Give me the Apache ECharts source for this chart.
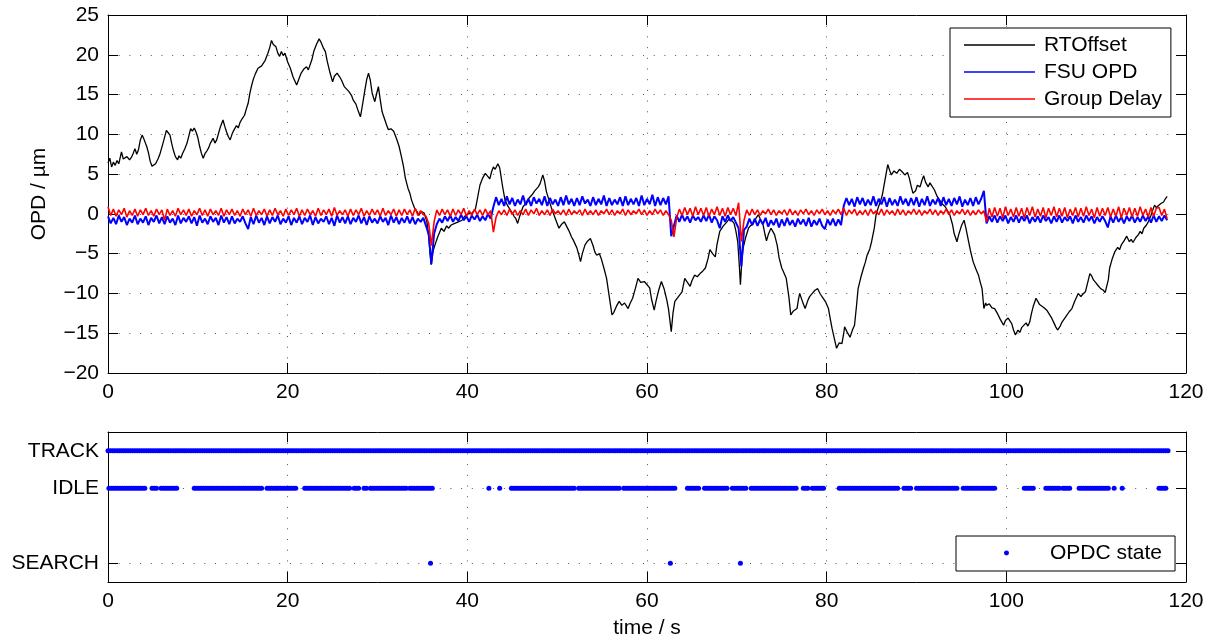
<!DOCTYPE html>
<html>
<head>
<meta charset="utf-8">
<title>OPD tracking</title>
<script src="https://cdn.jsdelivr.net/npm/echarts@6/dist/echarts.min.js"></script>
<style>
  html, body { margin: 0; padding: 0; background: #fff; }
  #chart { width: 1212px; height: 640px; }
</style>
</head>
<body>
<div id="chart"></div>
<script>
// ---- data -------------------------------------------------------------

// RTOffset trace, [time s, OPD µm]
const rtOffset = [
  [0,6.4],[0.2,7.0],[0.4,5.9],[0.6,6.5],[0.8,6.1],[1.0,6.7],[1.2,6.3],[1.5,7.8],[1.7,6.9],[1.9,6.7],
  [2.1,7.2],[2.4,6.8],[2.6,7.1],[2.8,7.6],[3.0,8.2],[3.2,7.5],[3.4,8.1],[3.6,9.3],[3.8,9.9],[4.0,9.4],
  [4.3,8.5],[4.5,7.7],[4.7,6.6],[4.9,6.0],[5.1,5.8],[5.3,6.3],[5.6,7.0],[5.8,7.6],[6.0,8.4],[6.2,9.2],
  [6.5,10.5],[6.7,10.2],[6.9,9.9],[7.1,8.8],[7.3,7.9],[7.5,7.2],[7.75,6.8],[7.9,7.3],[8.1,7.0],[8.3,7.6],
  [8.55,8.2],[8.8,8.9],[9.0,9.8],[9.2,10.7],[9.4,10.4],[9.6,10.8],[9.8,10.3],[10.0,9.6],[10.2,8.5],[10.4,7.6],
  [10.6,7.0],[10.8,7.6],[11.0,7.9],[11.2,8.3],[11.4,8.9],[11.7,9.5],[11.9,8.9],[12.1,9.3],[12.3,10.1],[12.5,10.9],
  [12.8,11.8],[13.0,11.0],[13.2,10.3],[13.4,9.7],[13.6,9.3],[13.8,10.0],[14.0,10.5],[14.3,11.1],[14.5,10.8],[14.7,11.5],
  [14.9,11.9],[15.2,12.4],[15.4,13.2],[15.6,13.9],[15.8,15.2],[16.0,16.2],[16.2,17.0],[16.4,17.6],[16.7,18.3],[16.9,18.1],
  [17.1,18.6],[17.3,18.5],[17.5,19.3],[17.8,20.2],[18.0,20.9],[18.2,21.8],[18.4,21.3],[18.7,21.0],[18.9,20.2],[19.1,19.8],
  [19.3,20.4],[19.5,19.9],[19.7,20.2],[20.0,19.1],[20.3,18.3],[20.6,17.2],[21.0,16.2],[21.2,16.8],[21.5,17.7],[21.8,18.2],
  [22.1,18.5],[22.3,18.1],[22.5,18.3],[22.7,19.4],[22.9,20.4],[23.2,21.3],[23.5,22.0],[23.7,21.6],[24.0,20.8],[24.2,20.4],
  [24.4,19.2],[24.7,17.8],[25.0,16.6],[25.2,17.3],[25.5,17.7],[25.8,17.2],[26.0,16.8],[26.3,16.0],[26.5,15.8],[26.8,15.4],
  [27.1,14.9],[27.3,14.3],[27.6,13.8],[27.8,13.1],[28.1,12.2],[28.3,13.5],[28.6,15.6],[28.8,16.9],[29.0,17.7],[29.2,16.8],
  [29.4,15.2],[29.7,14.1],[29.9,15.1],[30.1,16.0],[30.3,14.4],[30.5,12.9],[30.7,12.2],[31.0,11.2],[31.2,10.6],[31.5,10.7],
  [31.8,10.4],[32.1,9.5],[32.4,8.5],[32.7,7.0],[32.9,5.9],[33.1,4.5],[33.4,3.2],[33.6,2.6],[33.8,1.7],[34.1,0.8],
  [34.4,0.3],[34.6,-0.2],[34.9,0.3],[35.2,0.1],[35.5,-1.0],[35.7,-2.8],[35.96,-6.4],[36.2,-4.6],[36.4,-3.9],[36.7,-2.9],
  [37.1,-1.8],[37.4,-2.2],[37.7,-1.5],[37.9,-1.8],[38.2,-1.4],[38.6,-1.2],[39.0,-1.0],[39.4,-0.8],[39.7,-0.3],[40.1,0.0],
  [40.5,0.1],[40.9,0.6],[41.1,1.8],[41.4,3.6],[41.7,4.5],[42.0,5.1],[42.2,4.9],[42.5,4.4],[42.7,5.3],[42.9,5.9],
  [43.1,5.6],[43.4,6.3],[43.6,5.8],[43.7,5.1],[43.9,3.6],[44.2,1.7],[44.5,1.0],[44.9,0.3],[45.2,-0.3],[45.4,-0.6],
  [45.6,-1.2],[45.8,-0.4],[46.2,0.9],[46.5,1.3],[46.8,1.9],[47.2,2.4],[47.5,2.9],[47.9,3.4],[48.1,3.8],[48.4,4.9],
  [48.6,4.1],[48.8,2.8],[49.1,1.7],[49.4,0.6],[49.8,-0.6],[50.0,-1.2],[50.2,-1.8],[50.5,-1.3],[50.8,-1.0],[51.0,-1.2],
  [51.3,-2.1],[51.6,-2.9],[51.8,-3.3],[52.0,-3.8],[52.2,-4.3],[52.4,-5.1],[52.6,-6.0],[52.8,-5.0],[53.1,-3.9],[53.4,-3.4],
  [53.7,-3.1],[54.0,-4.0],[54.2,-4.8],[54.4,-5.2],[54.7,-5.0],[54.9,-5.6],[55.2,-6.8],[55.5,-8.1],[55.8,-10.4],[56.1,-12.7],
  [56.3,-12.4],[56.6,-11.6],[56.9,-11.0],[57.2,-11.5],[57.5,-11.2],[57.9,-11.9],[58.1,-11.3],[58.4,-10.6],[58.7,-9.4],[59.0,-8.1],
  [59.3,-8.6],[59.7,-8.5],[59.9,-8.3],[60.3,-9.3],[60.5,-10.7],[60.8,-12.1],[61.0,-11.0],[61.3,-9.6],[61.6,-8.5],[61.9,-9.4],
  [62.2,-10.8],[62.4,-12.0],[62.7,-14.8],[62.9,-12.4],[63.1,-11.0],[63.5,-10.4],[63.9,-9.8],[64.2,-8.1],[64.5,-8.6],[64.8,-9.1],
  [65.0,-8.4],[65.3,-7.7],[65.6,-7.9],[65.9,-7.5],[66.2,-7.2],[66.5,-6.8],[66.8,-5.6],[67.0,-4.5],[67.3,-5.0],[67.6,-5.4],
  [67.8,-3.8],[68.1,-2.2],[68.5,-1.5],[68.9,-1.0],[69.1,-0.7],[69.3,-0.5],[69.5,-0.9],[69.7,-1.2],[69.9,-2.2],[70.1,-3.5],
  [70.25,-6.0],[70.4,-8.9],[70.55,-6.0],[70.7,-4.3],[71.0,-2.9],[71.3,-1.8],[71.5,-1.5],[71.8,-1.3],[72.1,-0.6],[72.4,-0.1],
  [72.6,-0.6],[72.9,-1.3],[73.1,-2.4],[73.3,-3.4],[73.5,-2.6],[73.8,-1.8],[74.0,-2.2],[74.2,-2.6],[74.5,-4.0],[74.7,-5.5],
  [75.0,-6.8],[75.2,-7.3],[75.5,-8.1],[75.8,-10.5],[76.0,-12.7],[76.3,-12.2],[76.7,-11.9],[76.85,-10.8],[77.0,-10.0],[77.3,-11.0],
  [77.6,-11.9],[77.9,-10.9],[78.1,-10.4],[78.4,-10.0],[78.7,-9.6],[79.0,-9.4],[79.3,-10.1],[79.6,-10.6],[79.9,-11.1],[80.2,-11.9],
  [80.4,-13.2],[80.6,-14.4],[80.9,-15.9],[81.1,-16.9],[81.4,-16.2],[81.7,-16.3],[81.9,-15.0],[82.0,-14.2],[82.3,-14.9],[82.6,-15.5],
  [82.9,-14.5],[83.1,-14.0],[83.3,-11.8],[83.5,-9.4],[83.8,-8.0],[84.1,-6.8],[84.3,-6.1],[84.5,-5.2],[84.8,-4.4],[85.0,-3.5],
  [85.3,-1.8],[85.5,-0.1],[85.8,1.0],[86.0,1.6],[86.2,2.4],[86.5,4.3],[86.8,6.2],[87.0,5.5],[87.2,4.9],[87.5,5.4],
  [87.8,5.1],[88.1,5.6],[88.4,5.3],[88.7,4.9],[89.0,5.2],[89.2,4.5],[89.4,3.5],[89.6,2.6],[89.9,2.9],[90.1,3.6],
  [90.4,3.4],[90.6,4.2],[90.8,4.8],[91.0,4.0],[91.3,3.4],[91.5,3.9],[91.7,4.1],[92.0,3.0],[92.3,2.2],[92.6,1.7],
  [92.9,1.2],[93.2,0.9],[93.5,0.3],[93.7,-0.1],[94.0,-1.3],[94.2,-2.5],[94.5,-3.5],[94.7,-2.6],[95.0,-1.5],[95.3,-0.8],
  [95.5,-1.8],[95.8,-3.5],[96.0,-4.6],[96.3,-6.0],[96.6,-6.9],[96.9,-7.7],[97.1,-8.6],[97.3,-9.4],[97.5,-11.9],[97.7,-11.2],
  [97.8,-11.5],[98.1,-11.3],[98.4,-11.8],[98.7,-11.9],[99.0,-12.5],[99.3,-13.2],[99.5,-13.6],[99.7,-14.0],[99.9,-13.4],[100.2,-13.1],
  [100.4,-12.9],[100.6,-13.8],[100.8,-14.6],[101.0,-15.2],[101.3,-14.6],[101.5,-14.9],[101.7,-14.3],[101.9,-14.2],[102.2,-13.7],[102.4,-14.1],
  [102.6,-13.6],[102.8,-12.5],[103.0,-11.6],[103.3,-10.6],[103.5,-11.0],[103.7,-11.4],[103.9,-11.5],[104.2,-11.8],[104.5,-12.1],[104.7,-12.3],
  [105.0,-13.0],[105.3,-13.7],[105.5,-14.2],[105.7,-14.6],[106.0,-14.1],[106.2,-13.6],[106.4,-13.4],[106.7,-12.8],[107.0,-12.3],[107.3,-11.9],
  [107.6,-11.0],[108.0,-10.0],[108.3,-10.4],[108.5,-10.1],[108.8,-9.8],[109.0,-8.9],[109.3,-7.5],[109.5,-7.8],[109.7,-8.3],[110.0,-8.7],
  [110.2,-9.0],[110.5,-9.4],[110.8,-9.6],[111.0,-9.9],[111.2,-10.0],[111.35,-8.3],[111.5,-6.8],[111.8,-5.6],[112.1,-4.7],[112.4,-4.2],
  [112.6,-4.5],[112.8,-3.9],[113.1,-3.4],[113.4,-2.8],[113.7,-3.5],[113.9,-3.2],[114.1,-3.6],[114.4,-3.0],[114.7,-2.6],[114.9,-2.2],
  [115.1,-2.5],[115.3,-1.8],[115.6,-1.4],[115.8,-1.0],[116.1,-0.2],[116.3,0.5],[116.5,1.1],[116.7,0.8],[116.9,0.7],[117.2,1.3],
  [117.5,1.5],[117.7,1.9],[117.9,2.2]
];

// FSU OPD and group delay, sampled every opdStep seconds from t = 0
const opdStep = 0.3;
const fsuOpd = [
  -0.3,-1.2,-0.5,-1.3,-0.2,-1.0,-0.4,-1.4,-0.6,-1.1,   // 0 s
  -0.2,-1.3,-0.6,-1.1,-0.3,-1.4,-0.5,-1.0,-0.2,-1.2,   // 3 s
  -0.4,-1.3,-0.3,-1.1,-0.6,-1.4,-0.2,-1.2,-0.5,-1.0,   // 6 s
  -0.3,-1.2,-0.4,-1.5,-0.2,-1.1,-0.6,-1.3,-0.3,-1.0,   // 9 s
  -0.5,-1.4,-0.2,-1.1,-0.4,-1.3,-0.3,-1.2,-0.6,-1.0,   // 12 s
  -0.3,-1.2,-1.9,-0.4,-1.3,-0.2,-1.1,-0.5,-1.4,-0.3,   // 15 s
  -1.2,-0.4,-1.0,-0.2,-1.3,-0.6,-1.1,-0.3,-1.4,-0.5,   // 18 s
  -1.1,-0.3,-1.3,-0.5,-1.0,-0.2,-1.4,-0.4,-1.2,-0.6,   // 21 s
  -1.0,-0.3,-1.3,-0.5,-1.5,-0.2,-1.1,-0.4,-1.2,-0.3,   // 24 s
  -1.3,-0.5,-1.0,-0.2,-1.2,-0.4,-1.4,-0.3,-1.1,-0.6,   // 27 s
  -1.2,-0.3,-1.0,-0.5,-1.4,-0.2,-1.1,-0.4,-1.3,-0.5,   // 30 s
  -1.1,-0.3,-1.2,-0.4,-1.3,-0.6,-1.0,-0.5,-1.5,-2.6,   // 33 s
  -6.3,-2.5,-1.3,-0.6,-1.1,-0.3,-0.9,-0.2,-1.0,-0.4,   // 36 s
  -0.9,-0.1,-0.8,-0.3,-1.0,-0.2,-0.7,-0.1,-0.9,-0.3,   // 39 s
  -0.8,0.0,-0.6,0.9,2.1,1.1,1.9,1.0,2.2,1.2,           // 42 s
  2.0,1.0,1.8,1.2,2.3,1.1,1.9,1.0,2.1,1.3,             // 45 s
  1.9,1.1,2.2,1.0,2.0,1.2,1.8,1.0,2.1,1.1,             // 48 s
  2.3,1.2,1.9,1.0,2.0,1.1,2.2,1.3,1.8,1.0,             // 51 s
  2.1,1.1,1.9,1.2,2.3,1.0,2.0,1.1,1.8,1.2,             // 54 s
  2.1,1.0,2.2,1.1,1.9,1.2,2.0,1.0,2.3,1.1,             // 57 s
  1.9,1.2,2.4,1.0,2.1,1.1,2.0,1.2,2.2,-2.8,            // 60 s
  -1.5,-0.2,-1.0,-0.1,-0.9,-0.3,-1.1,-0.2,-0.8,-0.4,   // 63 s
  -1.0,-0.2,-0.9,-0.1,-1.1,-0.3,-0.8,-1.8,-0.3,-1.0,   // 66 s
  -0.2,-0.9,-0.4,-1.1,-1.8,-6.6,-2.0,-1.6,-0.6,-1.4,   // 69 s
  -0.6,-1.5,-0.7,-1.3,-0.5,-1.6,-0.8,-1.4,-0.6,-1.7,   // 72 s
  -0.7,-1.5,-0.5,-1.4,-0.8,-1.6,-0.6,-1.3,-0.7,-1.5,   // 75 s
  -0.5,-1.6,-0.8,-1.4,-0.6,-1.5,-1.9,-0.7,-1.4,-0.6,   // 78 s
  -1.5,-0.7,-1.4,1.0,2.0,1.1,1.9,0.9,2.1,1.2,          // 81 s
  2.0,1.0,1.8,1.1,2.2,1.0,1.9,1.2,2.1,0.9,             // 84 s
  2.0,1.1,1.8,1.0,2.2,1.2,1.9,1.0,2.0,1.1,             // 87 s
  2.1,0.9,1.9,1.1,2.2,1.0,1.8,1.2,2.0,1.0,             // 90 s
  2.1,1.1,1.9,1.0,2.0,1.2,2.2,0.9,1.8,1.1,             // 93 s
  2.0,1.0,2.1,1.2,1.9,2.9,-1.2,-0.3,-1.0,-0.2,         // 96 s
  -1.1,-0.3,-0.9,-0.2,-1.2,-0.4,-1.0,-0.2,-1.1,-0.3,   // 99 s
  -0.9,-0.2,-1.2,-0.4,-1.0,-0.3,-1.1,-0.2,-0.9,-0.4,   // 102 s
  -1.2,-0.3,-1.0,-0.2,-1.1,-0.4,-0.9,-0.3,-1.2,-0.2,   // 105 s
  -1.0,-0.4,-1.1,-0.2,-0.9,-0.3,-1.2,-0.4,-1.0,-0.3,   // 108 s
  -0.9,-1.7,-0.3,-1.1,-0.2,-1.0,-0.4,-1.2,-0.3,-0.9,   // 111 s
  -0.2,-1.1,-0.4,-1.0,-0.2,-0.9,-0.3,-1.1,-0.2,-1.0,   // 114 s
  -0.3,-0.9,-0.2,-0.8                                  // 117 s
];
const groupDelay = [
  0.9,-0.2,0.6,-0.3,0.5,-0.1,0.7,-0.4,0.4,-0.2,        // 0 s
  0.6,-0.3,0.5,-0.1,0.7,-0.2,0.4,-0.3,0.6,-0.1,        // 3 s
  0.5,-0.8,0.6,-0.2,0.4,-0.3,0.7,-0.1,0.5,-0.2,        // 6 s
  0.6,-0.3,0.4,-0.1,0.7,-0.2,0.5,-0.3,0.6,-0.1,        // 9 s
  0.4,-0.2,0.7,-0.3,0.5,-0.1,0.6,-0.2,0.4,-0.3,        // 12 s
  0.6,-0.1,0.5,-0.3,0.7,-0.2,0.4,-0.1,0.6,-0.3,        // 15 s
  0.5,-0.2,0.7,-0.1,0.4,-0.3,0.6,-0.2,0.5,-0.1,        // 18 s
  0.7,-0.3,0.5,-0.2,0.6,-0.1,0.4,-0.3,0.7,-0.2,        // 21 s
  0.5,-0.1,0.6,-0.3,0.8,-0.2,0.4,-0.1,0.5,-0.3,        // 24 s
  0.6,-0.2,0.5,-0.1,0.7,-0.3,0.4,-0.2,0.6,-0.1,        // 27 s
  0.5,-0.3,0.7,-0.2,0.4,-0.1,0.6,-0.3,0.5,-0.2,        // 30 s
  0.6,-0.1,0.5,-0.3,0.7,-0.2,0.4,-0.1,-0.3,-1.2,       // 33 s
  -4.0,-1.0,0.5,-0.2,0.6,-0.1,0.5,-0.3,0.6,-0.2,       // 36 s
  0.5,-0.1,0.7,-0.3,0.4,-0.2,0.6,-0.1,0.5,-0.2,        // 39 s
  0.6,-0.1,0.4,-2.3,-0.4,0.4,-0.1,0.5,-0.2,0.6,        // 42 s
  -0.1,0.5,-0.2,0.4,-0.1,0.6,-0.2,0.5,0.0,0.7,         // 45 s
  -0.2,0.4,-0.1,0.5,-0.2,0.6,0.0,0.4,-0.1,0.5,         // 48 s
  -0.2,0.6,-0.1,0.4,0.0,0.5,-0.2,0.6,-0.1,0.4,         // 51 s
  -0.1,0.5,-0.2,0.4,0.0,0.6,-0.1,0.5,-0.2,0.4,         // 54 s
  0.0,0.6,-0.2,0.5,-0.1,0.4,0.0,0.6,-0.1,0.5,          // 57 s
  -0.2,0.4,-0.1,0.6,0.0,0.5,-0.2,0.4,-0.1,-0.8,        // 60 s
  -2.9,-0.5,0.6,-0.2,0.8,-0.1,0.7,-0.3,0.9,-0.1,       // 63 s
  0.7,-0.2,0.8,-0.3,0.6,-0.1,0.9,-0.2,0.7,-0.3,        // 66 s
  0.8,-0.1,0.7,-0.2,1.4,-3.5,-0.8,0.5,-0.2,0.6,        // 69 s
  -0.1,0.5,-0.2,0.4,0.0,0.6,-0.1,0.5,-0.2,0.4,         // 72 s
  0.0,0.5,-0.2,0.6,-0.1,0.4,-0.2,0.5,0.0,0.6,          // 75 s
  -0.1,0.4,-0.2,0.5,0.0,0.6,-0.1,0.4,-0.2,0.5,         // 78 s
  0.0,0.6,-0.1,0.7,-0.2,0.5,0.0,0.6,-0.2,0.4,          // 81 s
  -0.1,0.5,-0.2,0.6,0.0,0.4,-0.1,0.6,-0.2,0.5,         // 84 s
  0.0,0.4,-0.2,0.6,-0.1,0.5,-0.2,0.4,0.0,0.6,          // 87 s
  -0.1,0.5,-0.2,0.4,0.0,0.6,-0.1,0.5,-0.2,0.4,         // 90 s
  0.0,0.6,-0.1,0.5,-0.2,0.4,0.0,0.6,-0.1,0.5,          // 93 s
  -0.2,0.4,-0.1,0.5,0.0,0.4,-1.0,0.7,-0.4,0.8,         // 96 s
  -0.3,0.7,-0.5,0.9,-0.2,0.6,-0.4,0.8,-0.3,0.7,        // 99 s
  -0.5,0.8,-0.2,0.9,-0.4,0.6,-0.3,0.8,-0.5,0.7,        // 102 s
  -0.2,0.9,-0.4,0.7,-0.3,0.8,-0.5,0.6,-0.2,0.8,        // 105 s
  -0.4,0.7,-0.3,0.9,-0.2,0.6,-0.5,0.8,-0.3,0.7,        // 108 s
  -0.2,0.8,-0.4,0.6,-0.3,0.9,-0.5,0.7,-0.2,0.8,        // 111 s
  -0.4,0.7,-0.3,0.9,-0.2,0.6,-0.4,0.8,-0.3,0.7,        // 114 s
  0.8,-0.2,0.6,-0.6                                    // 117 s
];

// OPDC state record: levels, labels, and the time spans spent in each state
const stateLevels = [1, 2, 3, 4];
const stateLabels = ['SEARCH', '', 'IDLE', 'TRACK'];
const stateStep = 0.25;               // controller sample period, s
const trackSpans = [[0.0, 117.9]];
const idleSpans = [
  [0.1,4.1],[4.9,5.4],[5.9,7.6],[9.6,10.9],[11.1,17.1],[17.7,18.6],[18.9,20.8],
  [21.9,27.0],[27.4,28.0],[28.5,28.7],[29.2,33.2],[33.6,36.2],[42.4,42.5],[43.6,43.7],
  [44.9,52.0],[52.4,57.0],[57.4,60.8],[61.1,63.2],[64.5,65.8],[66.4,68.8],[69.5,71.1],
  [71.6,76.5],[77.4,77.9],[78.4,79.7],[81.4,85.7],[85.9,88.0],[88.6,89.4],[90.0,94.4],
  [95.2,98.7],[102.0,103.0],[104.4,105.9],[106.3,107.1],[108.1,111.4],[112.0,112.0],
  [112.9,112.9],[117.0,117.8]
];
const searchTimes = [35.9, 62.6, 70.4];

// axis ticks
const timeTicks = [0, 20, 40, 60, 80, 100, 120];
const opdTicks = [-20, -15, -10, -5, 0, 5, 10, 15, 20, 25];

// ---- build series data ------------------------------------------------

const rtData = rtOffset.map(p => [p[0], p[1]]);
const fsuData = fsuOpd.map((v, i) => [+(i * opdStep).toFixed(2), v]);
const gdData = groupDelay.map((v, i) => [+(i * opdStep).toFixed(2), v]);

function spansToSamples(spans, level) {
  const out = [];
  spans.forEach(([a, b]) => {
    const n = Math.round((b - a) / stateStep);
    for (let k = 0; k <= n; k++) out.push([+(a + k * stateStep).toFixed(3), level]);
  });
  return out;
}
const stateData = []
  .concat(spansToSamples(trackSpans, stateLevels[3]))
  .concat(spansToSamples(idleSpans, stateLevels[2]))
  .concat(searchTimes.map(t => [t, stateLevels[0]]));

// ---- styling helpers --------------------------------------------------

const FONT = 'Liberation Sans, Arial, Helvetica, sans-serif';
const textBase = { fontFamily: FONT, fontSize: 21, color: '#000' };
const dotted = { show: true, lineStyle: { color: '#555', width: 1, type: [1, 9.7] } };
const tickIn = { show: true, inside: true, length: 10, lineStyle: { color: '#000', width: 1 } };
const frame = { show: true, onZero: false, lineStyle: { color: '#000', width: 1 } };

function timeAxis(grid, position, withLabels) {
  return {
    type: 'value', gridIndex: grid, position: position,
    min: timeTicks[0], max: timeTicks[timeTicks.length - 1], interval: 20,
    axisLine: frame, axisTick: tickIn,
    axisLabel: { show: withLabels, margin: 9, ...textBase },
    splitLine: withLabels ? dotted : { show: false }
  };
}

// legend marker for the state dots: a small disc centred in a 71 px wide slot
const dotIcon = 'path://M0,2.5L0.01,2.5M71,2.5L71.01,2.5M33,2.5A2.5,2.5,0,1,0,38,2.5A2.5,2.5,0,1,0,33,2.5Z';

const option = {
  backgroundColor: '#fff',
  animation: false,
  grid: [
    { left: 108, top: 15, width: 1078, height: 358 },
    { left: 108, top: 432, width: 1078, height: 150 }
  ],
  xAxis: [
    timeAxis(0, 'bottom', true),
    timeAxis(0, 'top', false),
    Object.assign(timeAxis(1, 'bottom', true), {
      name: 'time / s', nameLocation: 'middle', nameGap: 36, nameTextStyle: textBase
    }),
    timeAxis(1, 'top', false)
  ],
  yAxis: [
    {
      type: 'value', gridIndex: 0, position: 'left',
      min: opdTicks[0], max: opdTicks[opdTicks.length - 1], interval: 5,
      axisLine: frame, axisTick: tickIn,
      axisLabel: { margin: 9, ...textBase, formatter: v => (v < 0 ? '\u2212' + (-v) : '' + v) },
      splitLine: dotted,
      name: 'OPD / \u00b5m', nameLocation: 'middle', nameGap: 58, nameTextStyle: textBase
    },
    {
      type: 'value', gridIndex: 0, position: 'right',
      min: opdTicks[0], max: opdTicks[opdTicks.length - 1], interval: 5,
      axisLine: frame, axisTick: tickIn, axisLabel: { show: false }, splitLine: { show: false }
    },
    {
      type: 'value', gridIndex: 1, position: 'left', min: 0.5, max: 4.5,
      axisLine: frame,
      axisTick: Object.assign({}, tickIn, { customValues: [1, 3, 4] }),
      axisLabel: {
        margin: 9, ...textBase, customValues: [1, 3, 4],
        formatter: v => stateLabels[stateLevels.indexOf(Math.round(v))]
      },
      splitLine: dotted
    },
    {
      type: 'value', gridIndex: 1, position: 'right', min: 0.5, max: 4.5,
      axisLine: frame,
      axisTick: Object.assign({}, tickIn, { customValues: [1, 3, 4] }),
      axisLabel: { show: false }, splitLine: { show: false }
    }
  ],
  legend: [
    {
      data: [
        { name: 'RTOffset', icon: 'rect' },
        { name: 'FSU OPD', icon: 'rect' },
        { name: 'Group Delay', icon: 'rect' }
      ],
      orient: 'vertical', left: 950, top: 28,
      padding: [6, 9, 7, 14], itemGap: 5, itemWidth: 71, itemHeight: 1.6,
      borderColor: '#000', borderWidth: 1, borderRadius: 0, backgroundColor: '#fff',
      selectedMode: false,
      textStyle: { ...textBase, lineHeight: 22, padding: [0, 0, 0, 4] }
    },
    {
      data: [{ name: 'OPDC state', icon: dotIcon }],
      orient: 'vertical', left: 956, top: 536,
      padding: [6, 13, 7, 15], itemWidth: 71, itemHeight: 5,
      borderColor: '#000', borderWidth: 1, borderRadius: 0, backgroundColor: '#fff',
      selectedMode: false,
      textStyle: { ...textBase, lineHeight: 22, padding: [0, 0, 0, 3] }
    }
  ],
  series: [
    {
      name: 'RTOffset', type: 'line', xAxisIndex: 0, yAxisIndex: 0,
      data: rtData, symbol: 'none', color: '#000',
      lineStyle: { color: '#000', width: 1.3 }
    },
    {
      name: 'FSU OPD', type: 'line', xAxisIndex: 0, yAxisIndex: 0,
      data: fsuData, symbol: 'none', color: '#0000ff',
      lineStyle: { color: '#0000ff', width: 2 }
    },
    {
      name: 'Group Delay', type: 'line', xAxisIndex: 0, yAxisIndex: 0,
      data: gdData, symbol: 'none', color: '#ff0000',
      lineStyle: { color: '#ff0000', width: 1.6 }
    },
    {
      name: 'OPDC state', type: 'scatter', xAxisIndex: 2, yAxisIndex: 2,
      data: stateData, symbol: 'circle', symbolSize: 5,
      itemStyle: { color: '#0000ff', opacity: 1 }
    }
  ]
};

const chart = echarts.init(document.getElementById('chart'), null, { renderer: 'canvas' });
chart.setOption(option);
</script>
</body>
</html>
